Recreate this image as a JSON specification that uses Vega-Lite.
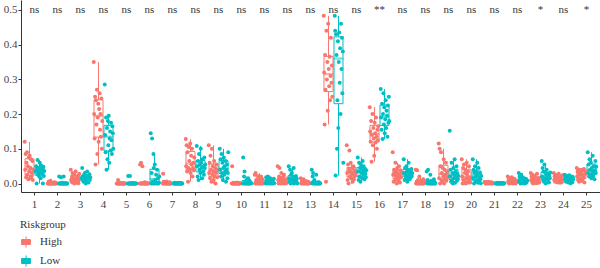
{
  "$schema": "https://vega.github.io/schema/vega-lite/v6.json",
  "width": 579,
  "height": 192,
  "autosize": "none",
  "padding": {"left": 21, "top": 0, "right": 0, "bottom": 76},
  "config": {
    "view": {"stroke": null},
    "font": "Liberation Serif",
    "axis": {"labelFont": "Liberation Serif", "labelFontSize": 11, "labelColor": "#444", "domainColor": "#333", "tickColor": "#333", "tickSize": 3, "grid": false, "title": null, "labelOverlap": false}
  },
  "datasets": {
    "pts": [
      {"gene": 1, "group": "High", "v": [0.12,0.04,0.085,0.018,0.06,0.09,0.025,0.05,0.012,0.075,0.035,0.08,0.015,0.045,0.07,0.02,0.03,0.065,0.01,0.04]},
      {"gene": 1, "group": "Low", "v": [0.035,0.05,0.0,0.04,0.068,0.025,0.03,0.045,0.02,0.06,0.038,0.015,0.052,0.033,0.028,0.042,0.0,0.048,0.022,0.036]},
      {"gene": 2, "group": "High", "v": [0,0,0.005,0,0.002,0,0.008,0,0,0.003,0,0,0.001,0,0,0.004,0,0,0.002,0]},
      {"gene": 2, "group": "Low", "v": [0,0.02,0,0,0,0.018,0,0,0.002,0,0,0.02,0,0,0,0.001,0,0,0,0]},
      {"gene": 3, "group": "High", "v": [0.04,0.01,0.005,0.02,0.03,0.002,0.012,0.008,0.025,0.0,0.015,0.035,0.003,0.01,0.018,0.006,0.022,0.001,0.012,0.028]},
      {"gene": 3, "group": "Low", "v": [0.015,0.045,0.01,0.02,0.005,0.025,0.012,0.03,0.018,0.0,0.008,0.022,0.035,0.014,0.02,0.003,0.016,0.027,0.01,0.018]},
      {"gene": 4, "group": "High", "v": [0.35,0.2,0.13,0.25,0.055,0.24,0.17,0.27,0.085,0.19,0.23,0.12,0.215,0.26,0.155,0.2,0.135,0.245,0.1,0.18]},
      {"gene": 4, "group": "Low", "v": [0.285,0.14,0.09,0.19,0.04,0.16,0.07,0.18,0.11,0.195,0.06,0.13,0.15,0.095,0.175,0.125,0.085,0.165,0.145,0.1]},
      {"gene": 5, "group": "High", "v": [0,0,0,0.01,0,0,0,0,0.002,0,0,0,0,0,0.001,0,0,0,0,0]},
      {"gene": 5, "group": "Low", "v": [0,0.022,0,0,0,0.022,0,0,0,0,0.001,0,0,0,0,0,0,0,0,0]},
      {"gene": 6, "group": "High", "v": [0,0.055,0,0.06,0,0,0.05,0,0.002,0,0,0,0.004,0,0,0,0.001,0,0,0]},
      {"gene": 6, "group": "Low", "v": [0.145,0,0.03,0.13,0.005,0,0.085,0.045,0,0.055,0.01,0,0.025,0.002,0.04,0,0.015,0,0.003,0.02]},
      {"gene": 7, "group": "High", "v": [0,0.028,0.005,0,0.005,0,0.003,0,0,0.006,0,0,0,0.002,0,0,0.004,0,0,0]},
      {"gene": 7, "group": "Low", "v": [0,0,0.002,0,0,0,0,0.001,0,0,0,0,0.002,0,0,0,0,0,0.001,0]},
      {"gene": 8, "group": "High", "v": [0.128,0.05,0.11,0.035,0.09,0.005,0.045,0.105,0.065,0.04,0.115,0.03,0.08,0.055,0.1,0.02,0.045,0.06,0.038,0.075]},
      {"gene": 8, "group": "Low", "v": [0.108,0.05,0.02,0.065,0.01,0.085,0.04,0.055,0.03,0.1,0.06,0.045,0.015,0.07,0.035,0.05,0.025,0.075,0.045,0.055]},
      {"gene": 9, "group": "High", "v": [0.11,0.03,0.06,0.015,0.08,0.04,0.005,0.1,0.025,0.05,0.035,0.01,0.065,0.02,0.045,0.0,0.03,0.055,0.04,0.018]},
      {"gene": 9, "group": "Low", "v": [0.1,0.04,0.07,0.02,0.085,0.03,0.06,0.01,0.045,0.075,0.025,0.05,0.035,0.065,0.005,0.04,0.055,0.015,0.03,0.09]},
      {"gene": 10, "group": "High", "v": [0,0.05,0,0,0.002,0,0,0.001,0,0,0,0,0.003,0,0,0,0,0,0.001,0]},
      {"gene": 10, "group": "Low", "v": [0,0.075,0,0.02,0.035,0,0.005,0,0.01,0,0.002,0,0.015,0,0,0.008,0,0.003,0,0.001]},
      {"gene": 11, "group": "High", "v": [0.025,0,0.03,0.005,0.01,0,0.022,0.002,0,0.015,0.004,0,0.008,0,0.02,0.003,0,0.012,0.001,0]},
      {"gene": 11, "group": "Low", "v": [0,0.018,0.005,0.01,0,0.02,0.002,0.012,0,0.008,0.015,0,0.004,0.006,0,0.01,0.003,0,0.014,0.001]},
      {"gene": 12, "group": "High", "v": [0.05,0.01,0,0.02,0.045,0.005,0.015,0,0.03,0.008,0.002,0.018,0,0.012,0.025,0.004,0,0.01,0.006,0.001]},
      {"gene": 12, "group": "Low", "v": [0.05,0.015,0.005,0.04,0,0.025,0.01,0.03,0.002,0.02,0.008,0.045,0,0.018,0.012,0.004,0.022,0.006,0.014,0]},
      {"gene": 13, "group": "High", "v": [0.015,0,0.005,0.01,0,0.002,0.012,0,0.003,0,0.008,0,0.001,0.004,0,0,0.006,0,0.002,0]},
      {"gene": 13, "group": "Low", "v": [0.04,0,0.02,0.03,0.005,0,0.01,0,0.002,0,0.025,0.001,0,0.003,0,0,0.004,0,0.001,0]},
      {"gene": 14, "group": "High", "v": [0.483,0.32,0.17,0.37,0.27,0.005,0.44,0.3,0.35,0.21,0.46,0.33,0.28,0.365,0.24,0.31,0.42,0.29,0.34,0.25]},
      {"gene": 14, "group": "Low", "v": [0.483,0.44,0.023,0.43,0.37,0.1,0.24,0.41,0.16,0.35,0.435,0.29,0.39,0.2,0.46,0.33,0.42,0.26,0.38,0.06]},
      {"gene": 15, "group": "High", "v": [0.11,0.03,0.01,0.055,0,0.04,0.095,0.02,0.035,0.06,0.015,0.025,0.045,0.005,0.03,0.05,0.012,0.038,0.022,0.028]},
      {"gene": 15, "group": "Low", "v": [0.075,0.035,0.01,0.06,0.02,0.045,0.005,0.055,0.03,0.04,0.015,0.065,0.025,0.05,0.035,0.012,0.042,0.028,0.018,0.038]},
      {"gene": 16, "group": "High", "v": [0.22,0.15,0.12,0.18,0.063,0.14,0.2,0.11,0.16,0.13,0.08,0.175,0.145,0.118,0.19,0.135,0.1,0.155,0.125,0.165]},
      {"gene": 16, "group": "Low", "v": [0.272,0.19,0.155,0.23,0.128,0.2,0.26,0.17,0.22,0.145,0.185,0.24,0.16,0.21,0.195,0.135,0.225,0.175,0.25,0.18]},
      {"gene": 17, "group": "High", "v": [0.09,0.025,0.005,0.04,0.03,0.01,0.06,0.02,0.035,0,0.045,0.015,0.028,0.008,0.05,0.022,0.003,0.038,0.018,0.032]},
      {"gene": 17, "group": "Low", "v": [0.07,0.03,0.01,0.045,0.025,0.015,0.05,0.035,0.005,0.04,0.02,0.06,0.028,0.012,0.038,0.032,0.018,0.042,0.022,0.03]},
      {"gene": 18, "group": "High", "v": [0.04,0,0.005,0.038,0,0.01,0,0.002,0.02,0,0.003,0,0.008,0.001,0,0.004,0,0.012,0,0.006]},
      {"gene": 18, "group": "Low", "v": [0.035,0,0.01,0.04,0.002,0,0.005,0,0.025,0.001,0,0.008,0,0.003,0,0.006,0.012,0,0.004,0]},
      {"gene": 19, "group": "High", "v": [0.115,0.015,0.1,0.0,0.05,0.09,0.01,0.03,0.005,0.045,0.02,0.07,0,0.04,0.012,0.025,0.06,0.008,0.035,0.018]},
      {"gene": 19, "group": "Low", "v": [0.152,0.02,0.04,0.005,0.06,0.01,0.03,0,0.045,0.015,0.025,0.07,0.002,0.035,0.018,0.05,0.008,0.028,0.012,0.022]},
      {"gene": 20, "group": "High", "v": [0.07,0.02,0,0.045,0.01,0.055,0.005,0.03,0.04,0,0.015,0.06,0.025,0.002,0.035,0.008,0.05,0.012,0.018,0.003]},
      {"gene": 20, "group": "Low", "v": [0.07,0.015,0.04,0,0.03,0.05,0.005,0.02,0.035,0.01,0.06,0.025,0.002,0.045,0.008,0.018,0.03,0.012,0.001,0.022]},
      {"gene": 21, "group": "High", "v": [0.005,0.002,0,0.004,0.001,0.003,0,0.002,0.005,0.001,0,0.003,0.002,0.004,0,0.001,0.003,0.002,0,0.001]},
      {"gene": 21, "group": "Low", "v": [0,0.001,0,0,0.002,0,0.001,0,0,0.001,0,0,0.002,0,0,0.001,0,0,0,0.001]},
      {"gene": 22, "group": "High", "v": [0.02,0.005,0.01,0,0.015,0.003,0.008,0.012,0.001,0.018,0.006,0,0.004,0.01,0.002,0.014,0.007,0,0.009,0.003]},
      {"gene": 22, "group": "Low", "v": [0.03,0.005,0.02,0.01,0,0.025,0.003,0.012,0.008,0.018,0.001,0.015,0.006,0,0.01,0.004,0.014,0.002,0.007,0.009]},
      {"gene": 23, "group": "High", "v": [0.03,0.01,0.02,0.005,0.025,0,0.015,0.008,0.022,0.003,0.012,0.018,0.001,0.01,0.028,0.006,0.014,0.002,0.016,0.004]},
      {"gene": 23, "group": "Low", "v": [0.065,0.02,0.045,0.01,0.035,0.005,0.055,0.015,0.03,0,0.025,0.04,0.012,0.018,0.008,0.028,0.003,0.022,0.015,0.032]},
      {"gene": 24, "group": "High", "v": [0.03,0.01,0.02,0.005,0.025,0.015,0.008,0.022,0.003,0.018,0.012,0.028,0.006,0.016,0.002,0.014,0.02,0.01,0.004,0.024]},
      {"gene": 24, "group": "Low", "v": [0.025,0.01,0.02,0.005,0.015,0.022,0.008,0.018,0.003,0.012,0.024,0.006,0.016,0.001,0.014,0.02,0.01,0.004,0.019,0.012]},
      {"gene": 25, "group": "High", "v": [0.045,0.02,0.035,0.01,0.03,0.005,0.04,0.025,0.015,0.032,0.008,0.028,0.038,0.012,0.022,0.018,0.042,0.003,0.026,0.035]},
      {"gene": 25, "group": "Low", "v": [0.09,0.03,0.055,0.02,0.07,0.04,0.025,0.06,0.015,0.045,0.035,0.08,0.022,0.05,0.028,0.012,0.038,0.065,0.03,0.048]}
    ],
    "sig": [
      {"gene": 1, "sig": "ns"}, {"gene": 2, "sig": "ns"}, {"gene": 3, "sig": "ns"}, {"gene": 4, "sig": "ns"}, {"gene": 5, "sig": "ns"},
      {"gene": 6, "sig": "ns"}, {"gene": 7, "sig": "ns"}, {"gene": 8, "sig": "ns"}, {"gene": 9, "sig": "ns"}, {"gene": 10, "sig": "ns"},
      {"gene": 11, "sig": "ns"}, {"gene": 12, "sig": "ns"}, {"gene": 13, "sig": "ns"}, {"gene": 14, "sig": "ns"}, {"gene": 15, "sig": "ns"},
      {"gene": 16, "sig": "**"}, {"gene": 17, "sig": "ns"}, {"gene": 18, "sig": "ns"}, {"gene": 19, "sig": "ns"}, {"gene": 20, "sig": "ns"},
      {"gene": 21, "sig": "ns"}, {"gene": 22, "sig": "ns"}, {"gene": 23, "sig": "*"}, {"gene": 24, "sig": "ns"}, {"gene": 25, "sig": "*"}
    ]
  },
  "resolve": {"scale": {"xOffset": "independent"}},
  "layer": [
    {
      "data": {"name": "pts"},
      "transform": [{"flatten": ["v"]}],
      "mark": {"type": "boxplot", "extent": 1.5, "size": 9, "outliers": false, "box": {"fill": "white", "strokeWidth": 1}, "median": {"strokeWidth": 1}, "rule": {"strokeWidth": 1}},
      "encoding": {
        "x": {"field": "gene", "type": "ordinal", "title": null, "scale": {"paddingInner": 0, "paddingOuter": 0.087}, "axis": {"title": null, "labelAngle": 0, "labelPadding": 3, "labelOverlap": false}},
        "xOffset": {"field": "group", "type": "nominal", "scale": {"paddingInner": 0, "paddingOuter": 0.15}},
        "y": {"field": "v", "type": "quantitative", "title": null, "scale": {"domain": [-0.0244, 0.5287], "nice": false, "zero": false}, "axis": {"title": null, "values": [0, 0.1, 0.2, 0.3, 0.4, 0.5], "tickCount": 6, "format": ".1f", "labelPadding": 1, "labelOverlap": false, "labelBound": false, "labelFlush": false}},
        "stroke": {"field": "group", "type": "nominal", "scale": {"domain": ["High", "Low"], "range": ["#F8766D", "#00BFC4"]},
          "legend": {"orient": "none", "legendX": -1, "legendY": 219, "title": "Riskgroup", "titleFont": "Liberation Serif", "titleFontSize": 11, "titleFontWeight": "normal", "titleColor": "#333", "labelFont": "Liberation Serif", "labelFontSize": 11, "labelColor": "#333", "symbolType": "M-0.8,-0.45H0.8V0.45H-0.8Z M0,-1V-0.45 M0,0.45V1 M-0.8,0H0.8 M0.15,0A0.15,0.15 0 1,1 -0.15,0A0.15,0.15 0 1,1 0.15,0", "symbolSize": 121, "symbolStrokeWidth": 1, "symbolFillColor": "transparent", "rowPadding": 3, "titlePadding": 6, "labelOffset": 8}}
      }
    },
    {
      "data": {"name": "pts"},
      "transform": [{"flatten": ["v"]}, {"window": [{"op": "row_number", "as": "rn"}], "groupby": ["gene", "group"]}, {"filter": {"field": "group", "equal": "High"}}],
      "mark": {"type": "circle", "size": 16, "opacity": 1},
      "encoding": {
        "x": {"field": "gene", "type": "ordinal", "title": null},
        "xOffset": {"field": "rn", "type": "ordinal", "scale": {"range": [1.5, 10.5]}},
        "y": {"field": "v", "type": "quantitative", "title": null, "axis": {"title": null, "values": [0, 0.1, 0.2, 0.3, 0.4, 0.5], "format": ".1f", "labelPadding": 1, "labelOverlap": false}},
        "color": {"field": "group", "type": "nominal", "scale": {"domain": ["High", "Low"], "range": ["#F8766D", "#00BFC4"]}, "legend": null}
      }
    },
    {
      "data": {"name": "pts"},
      "transform": [{"flatten": ["v"]}, {"window": [{"op": "row_number", "as": "rn"}], "groupby": ["gene", "group"]}, {"filter": {"field": "group", "equal": "Low"}}],
      "mark": {"type": "circle", "size": 16, "opacity": 1},
      "encoding": {
        "x": {"field": "gene", "type": "ordinal", "title": null},
        "xOffset": {"field": "rn", "type": "ordinal", "scale": {"range": [12.5, 21.5]}},
        "y": {"field": "v", "type": "quantitative", "title": null, "axis": {"title": null, "values": [0, 0.1, 0.2, 0.3, 0.4, 0.5], "format": ".1f", "labelPadding": 1, "labelOverlap": false}},
        "color": {"field": "group", "type": "nominal", "scale": {"domain": ["High", "Low"], "range": ["#F8766D", "#00BFC4"]}, "legend": null}
      }
    },
    {
      "data": {"name": "sig"},
      "mark": {"type": "text", "fontSize": 11, "font": "Liberation Serif", "color": "#333", "baseline": "middle"},
      "encoding": {
        "x": {"field": "gene", "type": "ordinal", "title": null},
        "y": {"datum": 0.5, "type": "quantitative", "title": null, "axis": {"title": null, "values": [0, 0.1, 0.2, 0.3, 0.4, 0.5], "format": ".1f", "labelPadding": 1, "labelOverlap": false}},
        "text": {"field": "sig"}
      }
    }
  ]
}
